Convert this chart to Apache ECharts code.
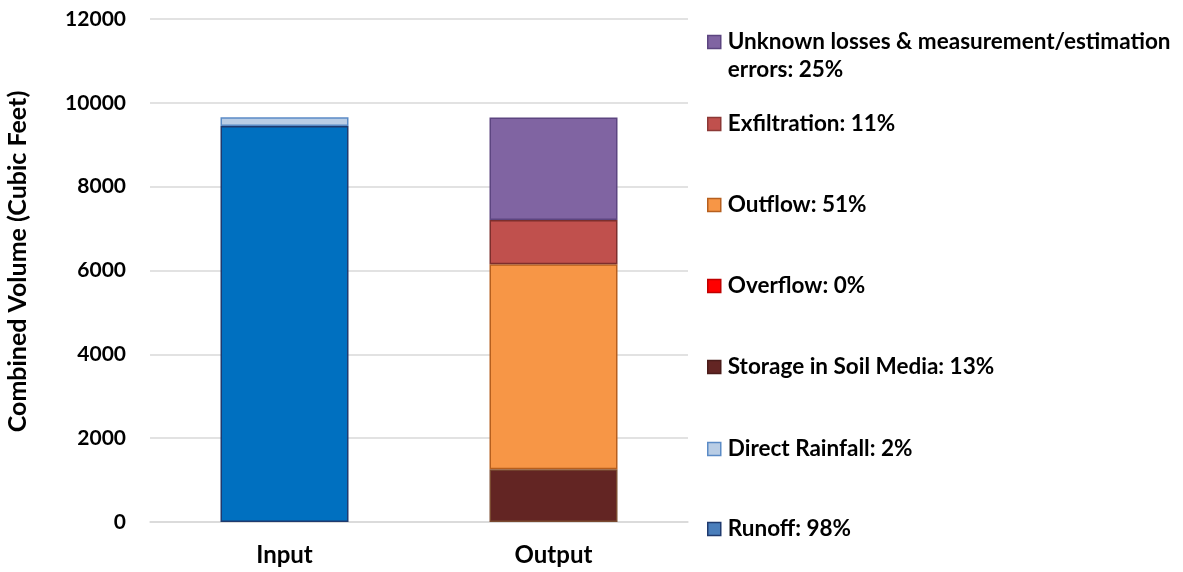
<!DOCTYPE html>
<html><head><meta charset="utf-8">
<script src="https://cdn.jsdelivr.net/npm/echarts@6/dist/echarts.min.js"></script>
<style>html,body{margin:0;padding:0;background:#fff}#c{width:1183px;height:572px}</style>
</head><body><div id="c"></div>
<script>
var categories = ['Input', 'Output'];
var runoff = [9450, 0];
var directRainfall = [205, 0];
var storage = [0, 1260];
var overflow = [0, 0];
var outflow = [0, 4890];
var exfiltration = [0, 1055];
var unknownLosses = [0, 2445];
var yTicks = [0, 2000, 4000, 6000, 8000, 10000, 12000];

var FONT = 'Lato';
var seriesDefs = [
  {name: 'Runoff: 98%', data: runoff, color: '#0070C0', border: '#1F3A6E', legendColor: '#4A7EBB'},
  {name: 'Direct Rainfall: 2%', data: directRainfall, color: '#B9CDE5', border: '#5B8BC6', legendColor: '#B9CDE5'},
  {name: 'Storage in Soil Media: 13%', data: storage, color: '#632523', border: '#7a4a30', legendColor: '#632523'},
  {name: 'Overflow: 0%', data: overflow, color: '#FF0000', border: '#B00000', legendColor: '#FF0000'},
  {name: 'Outflow: 51%', data: outflow, color: '#F79646', border: '#B65F1E', legendColor: '#F79646'},
  {name: 'Exfiltration: 11%', data: exfiltration, color: '#C0504D', border: '#7D2E2C', legendColor: '#C0504D'},
  {name: 'Unknown losses & measurement/estimation errors: 25%', data: unknownLosses, color: '#8064A2', border: '#5C4580', legendColor: '#8064A2'}
];
var legendBorders = {
  'Runoff: 98%': '#1F3A6E', 'Direct Rainfall: 2%': '#5B8BC6', 'Storage in Soil Media: 13%': '#4A1C1A',
  'Overflow: 0%': '#C00000', 'Outflow: 51%': '#B65F1E', 'Exfiltration: 11%': '#8C3836',
  'Unknown losses & measurement/estimation errors: 25%': '#5C4580'
};
var legendOrder = [6, 5, 4, 3, 2, 1, 0];
var legendCenters = [42, 124, 205, 286, 367, 449, 529];

var series = seriesDefs.map(function (d) {
  return {
    name: d.name, type: 'bar', stack: 'total',
    data: d.data.map(function (v) { return v === 0 ? '-' : v; }),
    barWidth: 128,
    itemStyle: {color: d.color, borderColor: d.border, borderWidth: 1.5},
    emphasis: {disabled: true}
  };
});

var legends = legendOrder.map(function (idx, i) {
  var d = seriesDefs[idx];
  var multi = idx === 6;
  return {
    left: 707, top: multi ? legendCenters[i] - 42 : legendCenters[i] - 14,
    orient: 'vertical', itemWidth: 13, itemHeight: 13, itemGap: 0, padding: 0,
    icon: 'rect',
    selectedMode: false,
    data: [{name: d.name, itemStyle: {color: d.legendColor, borderColor: legendBorders[d.name], borderWidth: 1.5}}],
    formatter: function (n) {
      if (n.indexOf('Unknown') === 0) return '\nUnknown losses & measurement/estimation\nerrors: 25%';
      return n;
    },
    textStyle: {fontFamily: FONT, fontWeight: 'bold', fontSize: 22.5, color: '#000', lineHeight: 28, padding: [0, 0, 0, 2]}
  };
});

var chart = echarts.init(document.getElementById('c'), null, {renderer: 'canvas'});
chart.setOption({
  animation: false,
  backgroundColor: '#fff',
  grid: {left: 150, right: 495, top: 19, bottom: 50},
  legend: legends,
  xAxis: {
    type: 'category', data: categories,
    axisLine: {lineStyle: {color: '#D9D9D9', width: 1.5}},
    axisTick: {show: false},
    axisLabel: {margin: 21, fontFamily: FONT, fontWeight: 'bold', fontSize: 24, color: '#000'}
  },
  yAxis: {
    type: 'value', min: yTicks[0], max: yTicks[yTicks.length - 1], interval: yTicks[1] - yTicks[0],
    name: 'Combined Volume (Cubic Feet)', nameLocation: 'middle', nameGap: 120,
    nameTextStyle: {fontFamily: FONT, fontWeight: 'bold', fontSize: 25, color: '#000', padding: [0, 0, 0, 18]},
    axisLine: {show: false}, axisTick: {show: false},
    splitLine: {lineStyle: {color: '#D9D9D9', width: 1.5}},
    axisLabel: {margin: 24, fontFamily: FONT, fontWeight: 'bold', fontSize: 21, color: '#000',
      formatter: function (v) { return String(v); }}
  },
  series: series
});
</script></body></html>
